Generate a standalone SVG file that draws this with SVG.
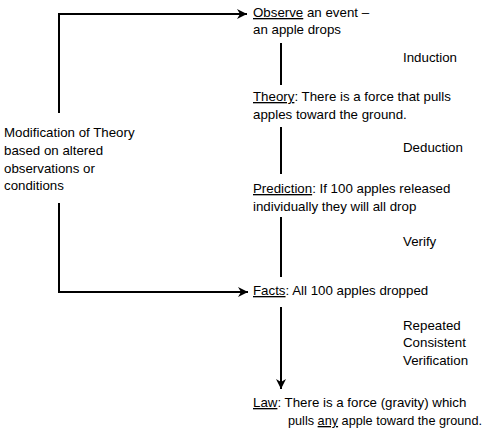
<svg xmlns="http://www.w3.org/2000/svg" width="500" height="438" viewBox="0 0 500 438">
<style>
text{font-family:"Liberation Sans",Arial,sans-serif;font-size:13.3px;fill:#000}
.u{text-decoration:underline}
.ln{stroke:#000;stroke-width:2;fill:none}
</style>
<defs>
<marker id="ah" viewBox="0 0 10 10" refX="10" refY="5" markerWidth="5" markerHeight="5" orient="auto" markerUnits="strokeWidth">
<path d="M0,0 L10,5 L0,10 L3,5 z" fill="#000"/>
</marker>
</defs>
<rect width="500" height="438" fill="#fff"/>
<g id="connectors">
<path class="ln" d="M59,113 V14 H247" marker-end="url(#ah)"/>
<path class="ln" d="M281,43 V85"/>
<path class="ln" d="M281,127 V174"/>
<path class="ln" d="M281,217 V277"/>
<path class="ln" d="M59,203 V292 H248" marker-end="url(#ah)"/>
<path class="ln" d="M281,307 V389" marker-end="url(#ah)"/>
</g>
<g id="observe"><text x="253" y="17"><tspan class="u">Observe</tspan> an event –</text><text x="253" y="34">an apple drops</text></g>
<g id="induction"><text x="403" y="62">Induction</text></g>
<g id="theory"><text x="253" y="101"><tspan class="u">Theory</tspan>: There is a force that pulls</text><text x="253" y="119">apples toward the ground.</text></g>
<g id="deduction"><text x="403" y="152">Deduction</text></g>
<g id="prediction"><text x="253" y="193"><tspan class="u">Prediction</tspan>: If 100 apples released</text><text x="253" y="211">individually they will all drop</text></g>
<g id="verify"><text x="403" y="246">Verify</text></g>
<g id="facts"><text x="253" y="295"><tspan class="u">Facts</tspan>: All 100 apples dropped</text></g>
<g id="repeated"><text x="403" y="330">Repeated</text><text x="403" y="347">Consistent</text><text x="403" y="365">Verification</text></g>
<g id="law"><text x="253" y="407"><tspan class="u">Law</tspan>: There is a force (gravity) which</text><text x="288" y="425" textLength="194" lengthAdjust="spacingAndGlyphs">pulls <tspan class="u">any</tspan> apple toward the ground.</text></g>
<g id="modification"><text x="4" y="137" font-size="14">Modification of Theory</text><text x="4" y="155">based on altered</text><text x="4" y="173">observations or</text><text x="4" y="190">conditions</text></g>
</svg>
